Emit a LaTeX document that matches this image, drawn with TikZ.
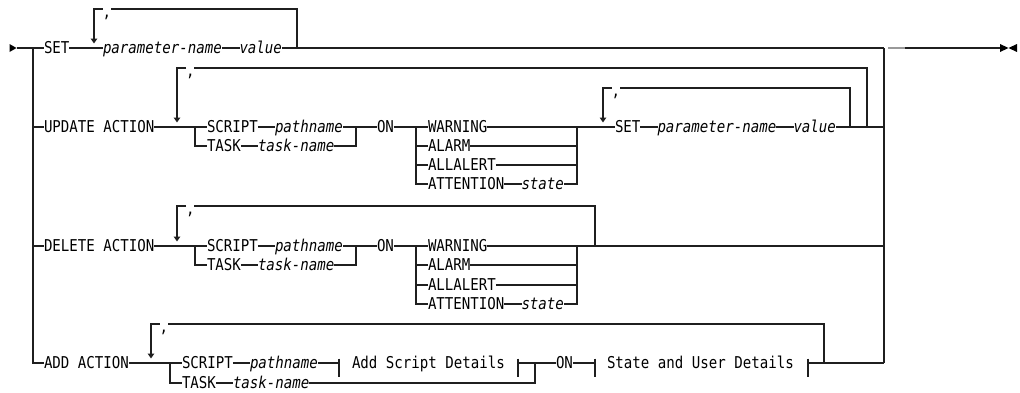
\documentclass[tikz,border=0pt]{standalone}
\usepackage{fontspec}
\usetikzlibrary{arrows.meta}
\newfontfamily\rr[FakeStretch=0.865,ItalicFont={DejaVu Sans Mono Oblique}]{DejaVu Sans Mono}
\begin{document}
\begin{tikzpicture}[x=1pt,y=-1pt,
  ln/.style={line width=1.2pt,draw=black!88},
  tx/.style={inner sep=0pt,outer sep=0pt,anchor=west,text height=11.9pt,text depth=0pt,text=black,font=\rr\fontsize{16.3}{19}\selectfont},
  it/.style={tx,font=\rr\fontsize{16.3}{19}\selectfont\itshape},
  commanode/.style={tx,yshift=-2.5pt},
  darr/.style={ln,-{Triangle[width=6.5pt,length=5pt]}}
]
\fill[white] (0,0) rectangle (1020,392);
\useasboundingbox (0,0) rectangle (1020,392);

% ---------- start / end markers ----------
\coordinate (st) at (16.5,48);
\fill[black] (9.5,44) -- (st) -- (9.5,52) -- cycle;
\coordinate (en) at (1008.5,48);
\fill[black] (1000,44) -- (en) -- (1000,52) -- cycle;
\fill[black] (1017,44) -- (en) -- (1017,52) -- cycle;

\coordinate (Lv) at (33,48);
\coordinate (Rv) at (884,48);
\coordinate (Rg1) at (888,48);
\coordinate (Rg2) at (905,48);

% ---------- SET row ----------
\node[tx] (set) at (44,48) {SET};
\node[it] (pn1) at (103,48) {parameter-name};
\node[it] (v1) at (239.5,48) {value};
\node[commanode] (c1) at (102.5,9) {,};
\coordinate (sR) at (297,48);
\coordinate (sA) at (94,43.5);

\draw[ln] (st) -- (set.west);
\draw[ln] (set.east) -- (pn1.west);
\draw[ln] (pn1.east) -- (v1.west);
\draw[ln] (v1.east) -- (Rv);
\draw[ln,draw=black!40] (Rg1) -- (Rg2);
\draw[ln] (Rg2) -- (1000,48);
\draw[ln] (sR) |- (c1.east |- 0,9);
\draw[darr] (c1.west |- 0,9) -| (sA);

% ---------- UPDATE ACTION row ----------
\node[tx] (upd) at (44,127) {UPDATE ACTION};
\coordinate (uB1) at (195,127);
\node[tx] (us) at (207,127) {SCRIPT};
\node[it] (usp) at (275,127) {pathname};
\node[tx] (ut) at (207,146) {TASK};
\node[it] (utn) at (258,146) {task-name};
\coordinate (uB2) at (356,127);
\node[tx] (uon) at (377,127) {ON};
\coordinate (uB3) at (416,127);
\node[tx] (uw) at (428,127) {WARNING};
\node[tx] (ual) at (428,146) {ALARM};
\node[tx] (uaa) at (428,165) {ALLALERT};
\node[tx] (uat) at (428,184) {ATTENTION};
\node[it] (ust) at (521.5,184) {state};
\coordinate (uB4) at (577,127);
\node[tx] (us2) at (615,127) {SET};
\node[it] (upn) at (657.5,127) {parameter-name};
\node[it] (uv) at (793.5,127) {value};
\coordinate (uL1) at (850,127);
\coordinate (uL2) at (867,127);
\node[commanode] (c2) at (186,68) {,};
\node[commanode] (c3) at (611.5,88) {,};
\coordinate (uA1) at (177,122.5);
\coordinate (uA2) at (603,122.5);

\draw[ln] (Lv |- upd.west) -- (upd.west);
\draw[ln] (upd.east) -- (us.west);
\draw[ln] (uB1) |- (ut.west);
\draw[ln] (us.east) -- (usp.west);
\draw[ln] (ut.east) -- (utn.west);
\draw[ln] (usp.east) -- (uon.west);
\draw[ln] (utn.east) -| (uB2);
\draw[ln] (uon.east) -- (uw.west);
\draw[ln] (uB3) |- (uat.west);
\draw[ln] (uB3 |- ual.west) -- (ual.west);
\draw[ln] (uB3 |- uaa.west) -- (uaa.west);
\draw[ln] (uat.east) -- (ust.west);
\draw[ln] (uw.east) -- (us2.west);
\draw[ln] (ual.east) -- (uB4 |- ual.east);
\draw[ln] (uaa.east) -- (uB4 |- uaa.east);
\draw[ln] (ust.east) -| (uB4);
\draw[ln] (us2.east) -- (upn.west);
\draw[ln] (upn.east) -- (uv.west);
\draw[ln] (uv.east) -- (Rv |- uv.east);
\draw[ln] (uL1) |- (c3.east |- 0,88);
\draw[darr] (c3.west |- 0,88) -| (uA2);
\draw[ln] (uL2) |- (c2.east |- 0,68);
\draw[darr] (c2.west |- 0,68) -| (uA1);

% ---------- DELETE ACTION row ----------
\node[tx] (del) at (44,246) {DELETE ACTION};
\coordinate (dB1) at (195,246);
\node[tx] (ds) at (207,246) {SCRIPT};
\node[it] (dsp) at (275,246) {pathname};
\node[tx] (dt) at (207,265) {TASK};
\node[it] (dtn) at (258,265) {task-name};
\coordinate (dB2) at (356,246);
\node[tx] (don) at (377,246) {ON};
\coordinate (dB3) at (416,246);
\node[tx] (dw) at (428,246) {WARNING};
\node[tx] (dal) at (428,265) {ALARM};
\node[tx] (daa) at (428,285) {ALLALERT};
\node[tx] (dat) at (428,304) {ATTENTION};
\node[it] (dst) at (521.5,304) {state};
\coordinate (dB4) at (577,246);
\coordinate (dL) at (595,246);
\node[commanode] (c4) at (186,206) {,};
\coordinate (dA) at (177,241.5);

\draw[ln] (Lv |- del.west) -- (del.west);
\draw[ln] (del.east) -- (ds.west);
\draw[ln] (dB1) |- (dt.west);
\draw[ln] (ds.east) -- (dsp.west);
\draw[ln] (dt.east) -- (dtn.west);
\draw[ln] (dsp.east) -- (don.west);
\draw[ln] (dtn.east) -| (dB2);
\draw[ln] (don.east) -- (dw.west);
\draw[ln] (dB3) |- (dat.west);
\draw[ln] (dB3 |- dal.west) -- (dal.west);
\draw[ln] (dB3 |- daa.west) -- (daa.west);
\draw[ln] (dat.east) -- (dst.west);
\draw[ln] (dal.east) -- (dB4 |- dal.east);
\draw[ln] (daa.east) -- (dB4 |- daa.east);
\draw[ln] (dst.east) -| (dB4);
\draw[ln] (dw.east) -- (Rv |- dw.east);
\draw[ln] (dL) |- (c4.east |- 0,206);
\draw[darr] (c4.west |- 0,206) -| (dA);

% ---------- ADD ACTION row ----------
\node[tx] (add) at (44,363) {ADD ACTION};
\coordinate (aB1) at (170,363);
\node[tx] (as) at (182,363) {SCRIPT};
\node[it] (asp) at (250,363) {pathname};
\node[tx] (at) at (182,383) {TASK};
\node[it] (atn) at (233,383) {task-name};
\coordinate (k1) at (339,363);
\node[tx] (asd) at (352,363) {Add Script Details};
\coordinate (k2) at (518,363);
\coordinate (aB2) at (535,363);
\node[tx] (aon) at (556,363) {ON};
\coordinate (k3) at (595,363);
\node[tx] (sud) at (607,363) {State and User Details};
\coordinate (k4) at (808,363);
\coordinate (aL) at (824,363);
\node[commanode] (c5) at (159.5,324) {,};
\coordinate (aA) at (151,358.5);

\draw[ln] (Lv) |- (add.west);
\draw[ln] (Rv) -- (Rv |- add.west);
\draw[ln] (add.east) -- (as.west);
\draw[ln] (aB1) |- (at.west);
\draw[ln] (as.east) -- (asp.west);
\draw[ln] (at.east) -- (atn.west);
\draw[ln] (asp.east) -- (k1);
\draw[ln] ([yshift=4.5pt]k1) -- ([yshift=-14pt]k1);
\draw[ln] ([yshift=4.5pt]k2) -- ([yshift=-14pt]k2);
\draw[ln] (k2) -- (aon.west);
\draw[ln] (atn.east) -| (aB2);
\draw[ln] (aon.east) -- (k3);
\draw[ln] ([yshift=4.5pt]k3) -- ([yshift=-14pt]k3);
\draw[ln] ([yshift=4.5pt]k4) -- ([yshift=-14pt]k4);
\draw[ln] (k4) -- (Rv |- k4);
\draw[ln] (aL) |- (c5.east |- 0,324);
\draw[darr] (c5.west |- 0,324) -| (aA);
\end{tikzpicture}
\end{document}
